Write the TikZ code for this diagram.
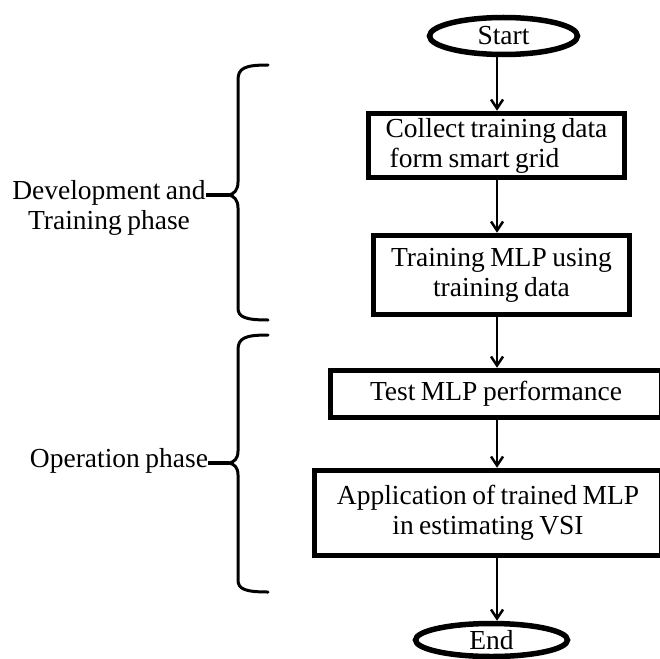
\documentclass[tikz,border=0pt]{standalone}
\usepackage{fontspec}
\setmainfont[WordSpace=0.8]{Liberation Serif}
\usetikzlibrary{shapes.geometric,arrows.meta}
\begin{document}
\begin{tikzpicture}[x=1pt,y=-1pt,
  txt/.style={font=\fontsize{27.5}{30}\selectfont},
  box/.style={txt, draw, rectangle, line width=5.5pt, inner sep=0pt, align=center},
  term/.style={txt, draw, ellipse, line width=5.5pt, inner sep=0pt},
  arr/.style={line width=2.5pt, -{Straight Barb[length=9pt,width=12pt]}},
  brace/.style={line width=3pt, line cap=round, line join=round},
  phase/.style={txt, align=center, inner sep=0pt},
  lead/.style={line width=4pt}]
\useasboundingbox (0,0) rectangle (660,658);
\fill[white] (0,0) rectangle (660,658);
\clip (0,0) rectangle (660,658);

% flow chart
\node[term, minimum width=148pt, minimum height=37pt] (start) at (503.5,36) {Start};
\node[box, minimum width=256pt, minimum height=64pt, align=left] (collect) at (496.5,145.5)
  {Collect training data\\\hspace{4pt}form smart grid};
\node[box, minimum width=256pt, minimum height=79pt] (train) at (501.5,275)
  {Training MLP using\\training data};
\node[box, minimum width=331pt, minimum height=47pt] (test) at (496,394)
  {Test MLP performance};
\node[box, minimum width=347pt, minimum height=85pt] (apply) at (488,513)
  {Application of trained MLP\\in estimating VSI};
\node[term, minimum width=152pt, minimum height=33pt] (end) at (491.5,640) {End};

% all connectors run down one vertical axis
\coordinate (ax) at (497,0);
\draw[arr] (start.south -| ax) -- (collect.north -| ax);
\draw[arr] (collect.south -| ax) -- (train.north -| ax);
\draw[arr] (train.south -| ax) -- (test.north -| ax);
\draw[arr] (test.south -| ax) -- (apply.north -| ax);
\draw[arr] (apply.south -| ax) -- (end.north -| ax);

% phase labels
\node[phase] (dev) at (109,208) {Development and\\Training phase};
\node[phase] (op) at (119,461) {Operation phase};

% braces grouping the phases
\coordinate (tip1) at (229,195);
\coordinate (tip2) at (229,463);
\draw[brace] (268,65) .. controls (245,65) and (238,68) .. (238,80) -- (238,182)
  .. controls (238,190) and (234,194) .. (tip1)
  .. controls (234,196) and (238,200) .. (238,208) -- (238,308)
  .. controls (238,317) and (245,320) .. (268,320);
\draw[brace] (268,335) .. controls (245,335) and (238,338) .. (238,350) -- (238,451)
  .. controls (238,459) and (234,462) .. (tip2)
  .. controls (234,464) and (238,467) .. (238,475) -- (238,580)
  .. controls (238,589) and (245,592) .. (268,592);
\draw[lead] (dev.east |- tip1) -- (tip1);
\draw[lead] (op.east |- tip2) -- (tip2);
\end{tikzpicture}
\end{document}
